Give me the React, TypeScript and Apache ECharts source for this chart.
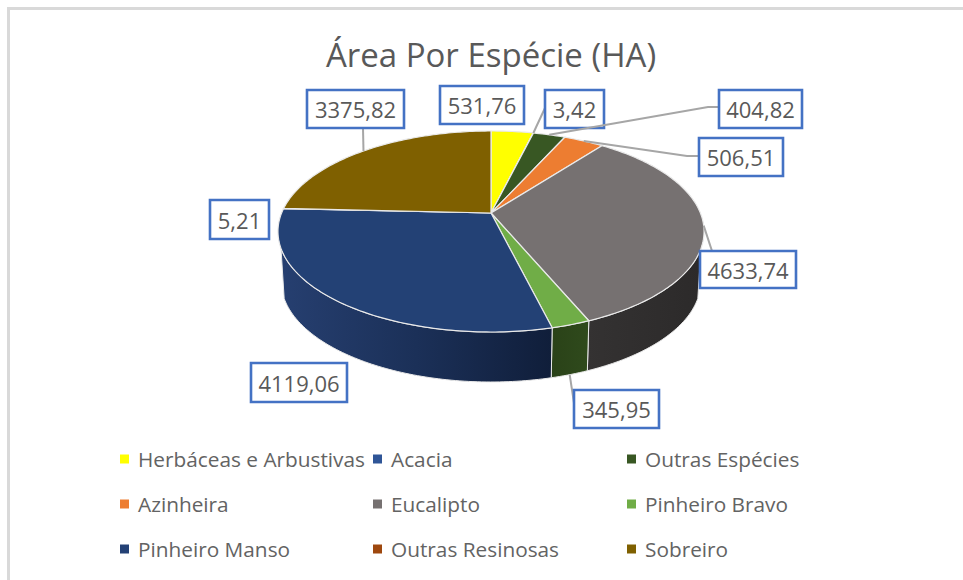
import React, { useEffect, useRef } from "react";
import * as echarts from "echarts";

const chartTitle = "Área Por Espécie (HA)";
const categories = ["Herbáceas e Arbustivas", "Acacia", "Outras Espécies", "Azinheira", "Eucalipto", "Pinheiro Bravo", "Pinheiro Manso", "Outras Resinosas", "Sobreiro"];
const values = [531.76, 3.42, 404.82, 506.51, 4633.74, 345.95, 4119.06, 5.21, 3375.82];

const colors = ["#ffff00", "#2f5597", "#385723", "#ed7d31", "#767171", "#70ad47", "#234175", "#9e480e", "#7f6000"];
const legendColumns = [[0, 3, 6], [1, 4, 7], [2, 5, 8]];
const legendLefts = [120, 373, 627];

// Pie projection (perspective view of a disc)
const CX = 491, CY = 213, A = 209.4, B = 97.1, P = 0.184, DEPTH = 50, BOTTOM_SCALE = 0.985;
const WALL_FROM = 110, WALL_TO = 250;
const EDGE = "#e9e9e9";

// Layout of the data labels: box [x0, y0, x1, y1], leader path after the slice anchor
const boxes = [
  [440, 86, 524, 124], [545, 90, 604, 128], [719, 90, 802, 128],
  [699, 138, 783, 176], [700, 251, 796, 288], [574, 390, 659, 428],
  [251, 363, 347, 402], [210, 200, 269, 239], [307, 90, 404, 128],
];
const leaders: (number[][] | null)[] = [
  null, [[545, 108]], [[708, 107], [719, 107]],
  [[687, 156], [699, 156]], [[712, 251]], [[574, 403]],
  null, null, [[363, 128]],
];
const wallFills = [
  null, null, null, null,
  [[0, "#343232"], [1, "#2c2a2a"]],
  [[0, "#2a4218"], [1, "#2f4a1c"]],
  [[0, "#263f70"], [0.5, "#1b3058"], [1, "#101e3a"]],
  null, null,
];

const total = values.reduce((s, v) => s + v, 0);
const starts: number[] = [];
values.reduce((s, v, i) => { starts[i] = s; return s + (v / total) * 360; }, 0);

const project = (d: number) => {
  const r = (d * Math.PI) / 180;
  const u = Math.sin(r), v = -Math.cos(r), w = 1 - P * v;
  return [CX + (A * u) / w, CY + (B * v) / w];
};
const lower = (p: number[]) => [CX + (p[0] - CX) * BOTTOM_SCALE, p[1] + DEPTH];
const arc = (from: number, to: number) => {
  const n = Math.max(2, Math.ceil(to - from) + 1);
  return Array.from({ length: n }, (_, k) => project(from + ((to - from) * k) / (n - 1)));
};

const renderSlice = (i: number) => (_p: any, api: any) => {
  const sweep = (api.value(0) / total) * 360;
  const a = starts[i], b = starts[i] + sweep;
  const children: any[] = [];
  const from = Math.max(a, WALL_FROM), to = Math.min(b, WALL_TO);
  if (to > from) {
    const top = arc(from, to);
    const fill = wallFills[i];
    children.push({
      type: "polygon",
      shape: { points: [...top, ...top.map(lower).reverse()] },
      style: {
        fill: fill
          ? new echarts.graphic.LinearGradient(0, 0, 1, 0, (fill as any[]).map((s) => ({ offset: s[0], color: s[1] })))
          : colors[i],
        stroke: EDGE,
        lineWidth: 1,
      },
    });
  }
  children.push({
    type: "polygon",
    shape: { points: [[CX, CY], ...arc(a, b)] },
    style: { fill: colors[i], stroke: EDGE, lineWidth: 1.2 },
  });
  return { type: "group", children };
};

const renderLabel = (params: any, api: any) => {
  const i = params.dataIndex;
  const [x0, y0, x1, y1] = boxes[i];
  const children: any[] = [];
  const path = leaders[i];
  if (path) {
    const mid = starts[i] + (api.value(0) / total) * 180;
    const onTop = project(mid);
    const anchor = mid > WALL_FROM && mid < WALL_TO ? lower(onTop) : onTop;
    children.push({
      type: "polyline",
      shape: { points: [anchor, ...path] },
      style: { stroke: "#a6a6a6", lineWidth: 2, fill: "none" },
    });
  }
  children.push({
    type: "rect",
    shape: { x: x0, y: y0, width: x1 - x0, height: y1 - y0 },
    style: { fill: "#ffffff", stroke: "#4472c4", lineWidth: 2.6 },
  });
  children.push({
    type: "text",
    style: {
      x: (x0 + x1) / 2,
      y: (y0 + y1) / 2,
      text: String(api.value(0)).replace(".", ","),
      align: "center",
      verticalAlign: "middle",
      fill: "#595959",
      font: "22px 'Open Sans'",
    },
  });
  return { type: "group", children };
};

export default function App() {
  const ref = useRef<HTMLDivElement>(null);
  useEffect(() => {
    document.body.style.margin = "0";
    const chart = echarts.init(ref.current!, null, { renderer: "svg" });
    chart.setOption({
      animation: false,
      backgroundColor: "#ffffff",
      title: {
        text: chartTitle,
        left: 486,
        top: 33,
        textAlign: "center",
        textStyle: { color: "#595959", fontFamily: "Open Sans", fontSize: 33, fontWeight: "normal" },
      },
      legend: legendColumns.map((col, c) => ({
        orient: "vertical",
        left: legendLefts[c],
        top: 445.5,
        itemGap: 18,
        itemWidth: 9,
        itemHeight: 9,
        icon: "rect",
        selectedMode: false,
        padding: 0,
        data: col.map((i) => categories[i]),
        textStyle: { color: "#636363", fontFamily: "Open Sans", fontSize: 20.8, padding: [0, 0, 0, 4], lineHeight: 27 },
      })),
      graphic: [
        { type: "rect", shape: { x: 7, y: 7, width: 956, height: 3 }, style: { fill: "#d9d9d9" } },
        { type: "rect", shape: { x: 7, y: 7, width: 3, height: 573 }, style: { fill: "#d9d9d9" } },
      ],
      series: [
        ...categories.map((name, i) => ({
          type: "custom",
          name,
          coordinateSystem: "none",
          itemStyle: { color: colors[i] },
          data: [values[i]],
          renderItem: renderSlice(i),
          silent: true,
        })),
        {
          type: "custom",
          name: "Rótulos",
          coordinateSystem: "none",
          z: 5,
          data: values,
          renderItem: renderLabel,
          silent: true,
        },
      ],
    });
    return () => chart.dispose();
  }, []);
  return <div ref={ref} style={{ width: 963, height: 580 }} />;
}
